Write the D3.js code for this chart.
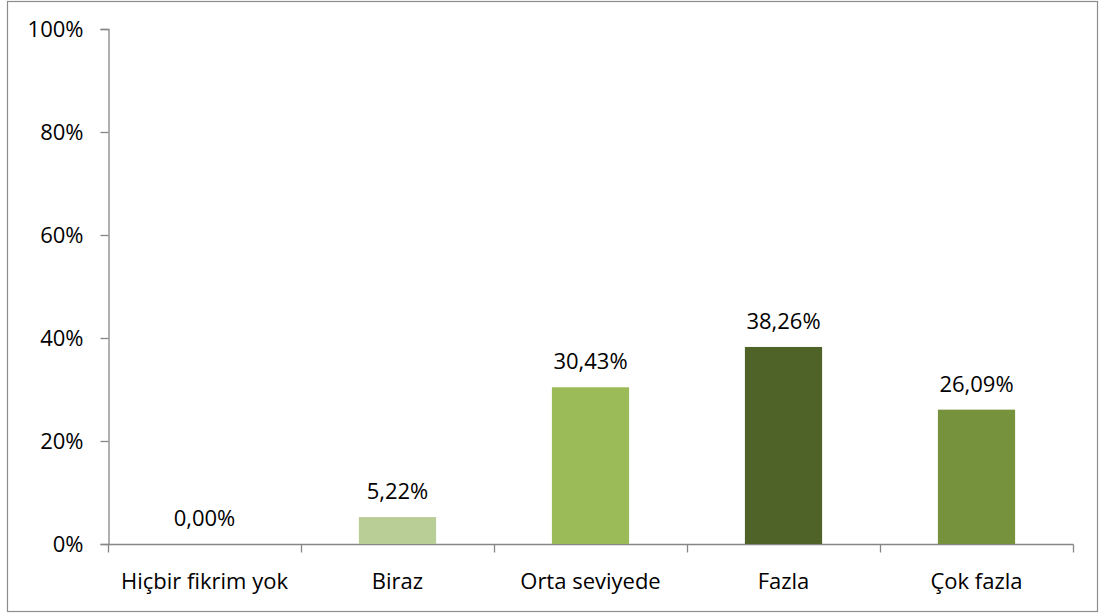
<!DOCTYPE html>
<html>
<head>
<meta charset="utf-8">
<script src="https://cdn.jsdelivr.net/npm/d3@7"></script>
<style>
  html, body { margin: 0; padding: 0; background: #fff; }
  svg { display: block; }
  text { font-family: "Open Sans", sans-serif; fill: #000; }
</style>
</head>
<body>
<svg id="chart" width="1103" height="614"></svg>
<script>
// Response categories and their shares (%)
const categories = ["Hiçbir fikrim yok", "Biraz", "Orta seviyede", "Fazla", "Çok fazla"];
const values = [0.00, 5.22, 30.43, 38.26, 26.09];
const barColors = ["#B9CD96", "#B9CD96", "#9BBB59", "#4F6228", "#76923C"];
const yTicks = [0, 20, 40, 60, 80, 100];

const svg = d3.select("#chart");
const FONT = "22px";
const plot = { left: 108, right: 1073, top: 29, bottom: 544 };

// Chart area frame
svg.append("rect")
  .attr("x", 7.5).attr("y", 1.5)
  .attr("width", 1090).attr("height", 610)
  .attr("fill", "#fff")
  .attr("stroke", "#8c8c8c").attr("stroke-width", 1.2);

const x = d3.scaleBand()
  .domain(categories)
  .range([plot.left, plot.right])
  .paddingInner(0.6).paddingOuter(0.3);

const y = d3.scaleLinear()
  .domain([0, 100])
  .range([plot.bottom, plot.top]);

const fmt = v => v.toFixed(2).replace(".", ",") + "%";

// Y axis
const yAxis = svg.append("g")
  .attr("transform", `translate(${plot.left + 0.5},0)`)
  .call(d3.axisLeft(y).tickValues(yTicks).tickSize(8).tickPadding(17).tickFormat(d => d + "%"));
yAxis.selectAll("path, line").attr("stroke", "#868686").attr("stroke-width", 1.3);
yAxis.selectAll("text").style("font-size", FONT).attr("fill", "#000")
  .style("font-family", "'Open Sans', sans-serif");

// X axis with ticks at category boundaries
const xOuter = d3.scaleLinear().domain([0, categories.length]).range([plot.left, plot.right]);
const xAxis = svg.append("g").attr("transform", `translate(0,${plot.bottom + 0.5})`);
xAxis.append("line")
  .attr("x1", plot.left).attr("x2", plot.right + 0.5)
  .attr("stroke", "#868686").attr("stroke-width", 1.3);
xAxis.selectAll("line.tick")
  .data(d3.range(categories.length + 1))
  .join("line").attr("class", "tick")
  .attr("x1", d => xOuter(d) + 0.5).attr("x2", d => xOuter(d) + 0.5)
  .attr("y1", 0).attr("y2", 8)
  .attr("stroke", "#868686").attr("stroke-width", 1.3);
xAxis.selectAll("text")
  .data(categories)
  .join("text")
  .attr("x", d => x(d) + x.bandwidth() / 2)
  .attr("y", 44)
  .attr("text-anchor", "middle")
  .style("font-size", FONT)
  .text(d => d);

// Bars
svg.selectAll("rect.bar")
  .data(values)
  .join("rect").attr("class", "bar")
  .attr("x", (d, i) => x(categories[i]))
  .attr("y", d => y(d))
  .attr("width", x.bandwidth())
  .attr("height", d => y(0) - y(d))
  .attr("fill", (d, i) => barColors[i]);

// Value labels
svg.selectAll("text.val")
  .data(values)
  .join("text").attr("class", "val")
  .attr("x", (d, i) => x(categories[i]) + x.bandwidth() / 2)
  .attr("y", d => y(d) - 18)
  .attr("text-anchor", "middle")
  .style("font-size", FONT)
  .text(d => fmt(d));
</script>
</body>
</html>
